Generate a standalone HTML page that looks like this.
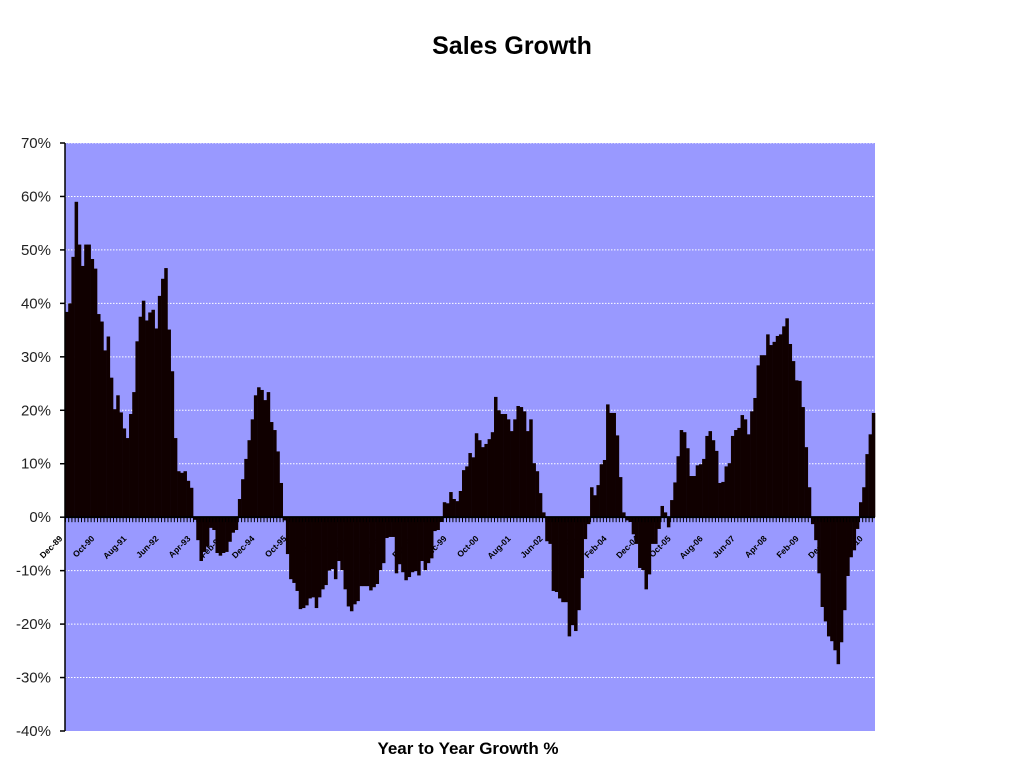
<!DOCTYPE html>
<html><head><meta charset="utf-8"><style>
body{margin:0;background:#fff;width:1024px;height:768px;overflow:hidden}
svg{display:block;font-family:"Liberation Sans",sans-serif}
</style></head><body>
<svg id="chart" width="1024" height="768" viewBox="0 0 1024 768">
<text x="512" y="54" text-anchor="middle" font-size="25" font-weight="bold">Sales Growth</text>
<rect x="65" y="143" width="810" height="588" fill="#9999ff"/>
<g id="grid"></g>
<g id="xlabels"></g>
<g id="bars"></g>
<g id="axes"></g>
<text x="468" y="754" text-anchor="middle" font-size="17" font-weight="bold">Year to Year Growth %</text>
</svg>
<script>
const values = [
38.4,40,48.7,59,51,47,51,51,48.3,46.5,38,36.6,31.2,33.8,26.1,20.2,22.8,19.6,16.6,14.8,19.3,23.4,32.9,37.5,40.5,36.8,38.3,38.8,35.3,41.4,44.6,46.6,35.1,27.3,14.8,8.6,8.3,8.6,6.8,5.5,-0.5,
-4.3,-8.2,-6.5,-5.5,-2,-2.4,-6.7,-7.2,-6.7,-6.5,-4.6,-2.9,-2.4,3.4,7.1,10.9,14.4,18.3,22.8,24.3,23.8,21.9,23.4,17.8,16.3,12.3,6.4,-0.6,-6.9,-11.6,-12.3,-13.8,-17.2,-17,-16.5,-15.2,-15,-17,-15,-13.5,-12.7,-10,
-9.7,-11.6,-8.2,-9.9,-13.5,-16.7,-17.6,-16.3,-15.7,-12.9,-12.9,-12.9,-13.7,-13.1,-12.5,-9.9,-8.6,-3.9,-3.7,-3.7,-10.5,-8.8,-10.3,-11.8,-11.2,-10.3,-10.1,-10.9,-8.2,-9.9,-8.6,-7.7,-2.6,-2.4,-0.9,2.8,2.6,4.7,3.4,3,4.9,8.8,9.5,
12,11.2,15.7,14.4,13.1,13.7,14.6,15.9,22.5,20,19.3,19.3,18.3,16.1,18.3,20.8,20.6,19.8,16.1,18.3,10.1,8.6,4.5,0.9,-4.5,-5,-13.8,-14,-15.2,-15.9,-15.9,-22.3,-20.2,-21.3,-17.4,-11.4,-4.1,-1.3,5.6,4.1,6,9.9,
10.7,21.1,19.5,19.5,15.3,7.5,0.9,-0.6,-0.9,-3.2,-5,-9.5,-9.9,-13.5,-10.7,-5,-5,-2.2,2.1,0.9,-1.9,3.2,6.5,11.4,16.3,15.9,12.9,7.7,7.7,9.7,9.9,10.9,15.2,16.1,14.4,12.4,6.4,6.6,9.5,10.1,15.2,16.3,16.7,
19.1,18.3,15.5,19.8,22.3,28.4,30.3,30.3,34.2,32.2,32.8,33.9,34.2,35.7,37.2,32.4,29.2,25.6,25.5,20.6,13.1,5.6,-1.3,-4.3,-10.5,-16.8,-19.5,-22.3,-23.2,-24.9,-27.5,-23.4,-17.4,-11,-7.5,-6.2,-2.2,2.8,5.6,11.8,15.5,19.5
];
const xLabels = ["Dec-89","Oct-90","Aug-91","Jun-92","Apr-93","Feb-94","Dec-94","Oct-95","Aug-96","Jun-97","Apr-98","Feb-99","Dec-99","Oct-00","Aug-01","Jun-02","Apr-03","Feb-04","Dec-04","Oct-05","Aug-06","Jun-07","Apr-08","Feb-09","Dec-09","Oct-10"];
const yTicks = [70,60,50,40,30,20,10,0,-10,-20,-30,-40];
const labelEvery = 10;

const NS="http://www.w3.org/2000/svg";
const X0=65,X1=875,Y0=143,Y1=731,YMAX=70,YMIN=-40;
const bw=(X1-X0)/values.length;
function y(v){return Y0+(YMAX-v)/(YMAX-YMIN)*(Y1-Y0);}
function x(i){return X0+i*bw;}
function mk(tag,attrs,parent){const e=document.createElementNS(NS,tag);for(const k in attrs)e.setAttribute(k,attrs[k]);parent.appendChild(e);return e;}
const grid=document.getElementById('grid'),bars=document.getElementById('bars'),axes=document.getElementById('axes'),xl=document.getElementById('xlabels');
yTicks.forEach(t=>{
  if(t!==0&&t!==YMIN){const l=mk('line',{x1:X0,x2:X1,y1:y(t),y2:y(t),stroke:'#fff','stroke-width':1,'stroke-dasharray':'1.5,1.5'},grid);
  
  }
  const tk=mk('line',{x1:X0-5,x2:X0,y1:y(t),y2:y(t),stroke:'#000','stroke-width':1.5},axes);
  
  
  const tx=mk('text',{x:51,y:y(t)+5,'text-anchor':'end','font-size':15,fill:'#222'},axes);
  tx.textContent=t+'%';
  
  
});
xLabels.forEach((s,k)=>{
  const bx=x(k*labelEvery)+1;
  const t=mk('text',{x:0,y:0,'text-anchor':'end','font-size':8.5,'font-weight':'bold',transform:`translate(${bx-3},${y(0)+22}) rotate(-45)`},xl);
  t.textContent=s;
  
  
});
values.forEach((v,i)=>{
  const top=Math.min(y(v),y(0)),h=Math.abs(y(v)-y(0));
  const r=mk('rect',{x:x(i),y:top,width:bw+0.3,height:Math.max(h,0.5),fill:'#100000'},bars);
  
  
  const tk=mk('line',{x1:x(i)+0.5,x2:x(i)+0.5,y1:y(0),y2:y(0)+5,stroke:'#000','stroke-width':1},axes);
  
  
});
const zl=mk('line',{x1:X0,x2:X1,y1:y(0),y2:y(0),stroke:'#000','stroke-width':2},axes);


const yl=mk('line',{x1:X0,x2:X0,y1:Y0,y2:Y1,stroke:'#000','stroke-width':1.5},axes);


</script>
</body></html>
